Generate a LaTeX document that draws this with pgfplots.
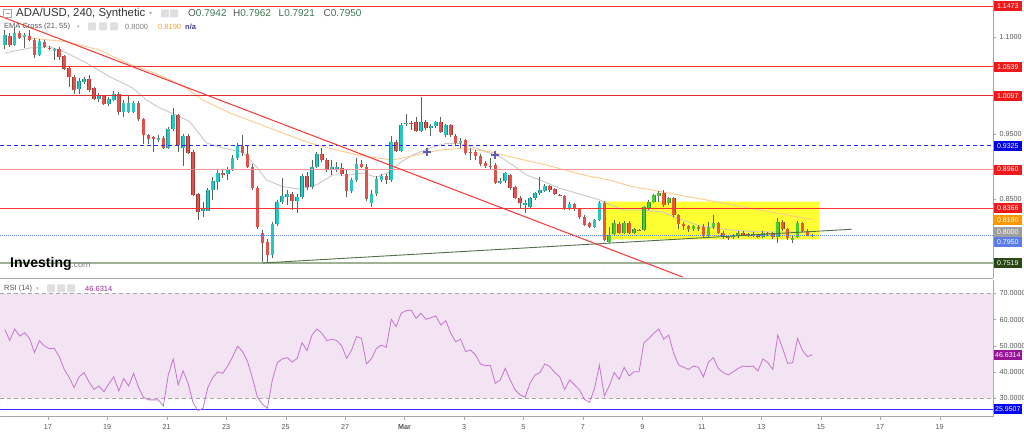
\documentclass[border=0pt]{standalone}
\usepackage{fontspec}
\setmainfont{Liberation Sans}
\newfontfamily\dejavu{DejaVu Sans}
\usepackage{pgfplots}
\usepackage{pgfplotstable}
\pgfplotsset{compat=1.18}

\definecolor{upc}{RGB}{38,200,196}
\definecolor{dnc}{RGB}{226,82,75}
\definecolor{upg}{RGB}{72,205,52}
\definecolor{dno}{RGB}{232,92,48}
\definecolor{wickc}{RGB}{85,100,85}
\definecolor{lred}{RGB}{240,24,24}
\definecolor{hred}{RGB}{250,50,50}
\definecolor{hpink}{RGB}{255,150,150}
\definecolor{hblue}{RGB}{40,40,255}
\definecolor{hlblue}{RGB}{100,130,255}
\definecolor{holive}{RGB}{160,178,150}
\definecolor{tgreen}{RGB}{80,112,70}
\definecolor{emag}{RGB}{200,200,200}
\definecolor{emao}{RGB}{255,200,140}
\definecolor{yel}{RGB}{255,255,50}
\definecolor{rsil}{RGB}{198,116,206}
\definecolor{rsiband}{RGB}{242,228,243}
\definecolor{txtg}{RGB}{85,85,85}
\definecolor{numgreen}{RGB}{60,120,80}
\definecolor{crossc}{RGB}{95,95,185}

\pgfplotstableread{
k o h l c
0 1.0877 1.1108 1.0815 1.1031
2 1.0877 1.1138 1.0861 1.1066
4 1.0995 1.1061 1.0831 1.1031
7 1.0723 1.0969 1.0707 1.0943
10 1.0789 1.0831 1.0646 1.0815
15 1.0200 1.0369 1.0123 1.0323
16 1.0303 1.0384 1.0277 1.0349
19 1.0046 1.0138 1.0000 1.0092
21 0.9969 1.0077 0.9938 1.0046
22 1.0031 1.0174 1.0015 1.0123
24 0.9851 1.0031 0.9774 0.9989
25 0.9851 1.0092 0.9830 0.9984
26 0.9851 1.0015 0.9830 0.9989
31 0.9415 0.9492 0.9384 0.9446
33 0.9297 0.9615 0.9277 0.9584
34 0.9584 0.9907 0.9554 0.9800
36 0.9287 0.9507 0.9020 0.9481
40 0.8327 0.8461 0.8231 0.8354
41 0.8327 0.8677 0.8323 0.8646
42 0.8646 0.8846 0.8492 0.8784
43 0.8774 0.8954 0.8646 0.8912
45 0.8892 0.9000 0.8800 0.8969
46 0.8969 0.9184 0.8938 0.9134
47 0.9134 0.9369 0.9107 0.9323
54 0.7646 0.8154 0.7600 0.8123
55 0.8123 0.8492 0.8092 0.8466
56 0.8466 0.8831 0.8431 0.8554
57 0.8543 0.8646 0.8415 0.8584
59 0.8481 0.8584 0.8292 0.8543
60 0.8533 0.8892 0.8507 0.8861
62 0.8687 0.9107 0.8661 0.9004
63 0.9004 0.9231 0.8984 0.9200
66 0.8954 0.9107 0.8877 0.9004
67 0.8954 0.9077 0.8923 0.9000
70 0.8635 0.8831 0.8600 0.8800
71 0.8800 0.9138 0.8769 0.9041
74 0.8450 0.8646 0.8389 0.8584
75 0.8584 0.8861 0.8554 0.8810
76 0.8800 0.8892 0.8769 0.8861
78 0.8800 0.9477 0.8769 0.9389
80 0.9250 0.9677 0.9231 0.9646
81 0.9657 0.9815 0.9631 0.9681
84 0.9558 1.0081 0.9538 0.9687
86 0.9595 0.9661 0.9477 0.9635
87 0.9635 0.9707 0.9600 0.9687
89 0.9492 0.9661 0.9461 0.9646
92 0.9364 0.9446 0.9292 0.9404
100 0.8758 0.8831 0.8738 0.8789
101 0.8789 0.8923 0.8754 0.8903
105 0.8415 0.8492 0.8292 0.8450
106 0.8380 0.8538 0.8354 0.8518
107 0.8518 0.8615 0.8492 0.8595
108 0.8595 0.8851 0.8569 0.8646
109 0.8631 0.8738 0.8615 0.8707
114 0.8364 0.8461 0.8338 0.8431
119 0.8081 0.8200 0.8061 0.8184
120 0.8184 0.8477 0.8169 0.8441
}\upA

\pgfplotstableread{
k o h l c
1 1.1015 1.1061 1.0846 1.0877
3 1.1066 1.1092 1.0964 1.0980
5 1.1020 1.1108 1.0943 1.0954
6 1.0954 1.0984 1.0677 1.0723
8 1.0927 1.0954 1.0831 1.0850
9 1.0835 1.0861 1.0800 1.0810
11 1.0815 1.0846 1.0646 1.0697
12 1.0707 1.0723 1.0492 1.0503
13 1.0518 1.0538 1.0235 1.0380
14 1.0389 1.0415 1.0123 1.0184
17 1.0354 1.0415 1.0158 1.0184
18 1.0211 1.0231 1.0031 1.0046
20 1.0092 1.0107 0.9954 0.9969
23 1.0123 1.0154 0.9800 0.9851
27 0.9984 1.0015 0.9707 0.9734
28 0.9738 0.9754 0.9354 0.9492
29 0.9492 0.9507 0.9354 0.9430
30 0.9461 0.9477 0.9235 0.9430
32 0.9446 0.9477 0.9277 0.9297
35 0.9800 0.9815 0.9235 0.9338
37 0.9481 0.9507 0.9200 0.9220
38 0.9235 0.9261 0.8554 0.8569
39 0.8584 0.8600 0.8184 0.8312
44 0.8912 0.8954 0.8831 0.8877
48 0.9323 0.9492 0.9169 0.9210
49 0.9200 0.9338 0.8984 0.9004
50 0.9004 0.9046 0.8646 0.8672
51 0.8672 0.8707 0.8046 0.8072
52 0.7984 0.8031 0.7519 0.7826
53 0.7850 0.7892 0.7519 0.7646
58 0.8584 0.8615 0.8338 0.8481
61 0.8861 0.8923 0.8646 0.8687
64 0.9200 0.9292 0.9077 0.9107
65 0.9107 0.9138 0.8923 0.8964
68 0.8980 0.9061 0.8861 0.8892
69 0.8892 0.8954 0.8538 0.8635
72 0.9041 0.9107 0.8984 0.9004
73 0.9004 0.9046 0.8477 0.8503
77 0.8861 0.8892 0.8738 0.8800
79 0.9389 0.9415 0.9231 0.9250
82 0.9681 0.9707 0.9569 0.9669
83 0.9687 0.9769 0.9538 0.9558
85 0.9697 0.9723 0.9569 0.9595
88 0.9687 0.9774 0.9523 0.9543
90 0.9646 0.9661 0.9461 0.9492
91 0.9481 0.9507 0.9338 0.9364
93 0.9415 0.9430 0.9184 0.9210
94 0.9235 0.9292 0.9107 0.9226
95 0.9235 0.9261 0.9107 0.9174
96 0.9174 0.9200 0.9015 0.9046
97 0.9066 0.9092 0.8984 0.9015
98 0.9015 0.9138 0.8954 0.9006
99 0.9031 0.9061 0.8738 0.8758
102 0.8877 0.8892 0.8646 0.8672
103 0.8687 0.8707 0.8507 0.8527
104 0.8527 0.8554 0.8369 0.8441
110 0.8707 0.8723 0.8615 0.8646
111 0.8657 0.8677 0.8569 0.8584
112 0.8569 0.8584 0.8554 0.8560
113 0.8554 0.8569 0.8338 0.8364
115 0.8431 0.8446 0.8323 0.8349
116 0.8349 0.8369 0.8200 0.8226
117 0.8235 0.8261 0.8092 0.8108
118 0.8133 0.8154 0.8061 0.8081
}\dnA

\pgfplotstableread{
k o h l c
122 0.7850 0.8081 0.7831 0.7954
123 0.7969 0.8184 0.7954 0.8134
125 0.7989 0.8169 0.7969 0.8143
127 0.7989 0.8061 0.7969 0.8041
129 0.8031 0.8400 0.8015 0.8380
130 0.8349 0.8492 0.8338 0.8466
131 0.8466 0.8584 0.8446 0.8569
132 0.8554 0.8631 0.8461 0.8595
134 0.8441 0.8538 0.8415 0.8518
139 0.8041 0.8107 0.8015 0.8092
142 0.7938 0.8154 0.7907 0.8081
143 0.8081 0.8261 0.8046 0.8143
147 0.7918 0.7969 0.7892 0.7938
148 0.7938 0.8015 0.7907 0.7989
151 0.7938 0.8000 0.7923 0.7969
153 0.7927 0.8015 0.7907 0.7989
156 0.7927 0.8215 0.7831 0.8158
159 0.7877 0.7938 0.7831 0.7912
160 0.7918 0.8169 0.7907 0.8134
163 0.7942 0.7962 0.7921 0.7950
}\upB

\pgfplotstableread{
k o h l c
121 0.8441 0.8477 0.7861 0.7877
124 0.8123 0.8154 0.7969 0.7989
126 0.8143 0.8169 0.7969 0.7989
128 0.8031 0.8046 0.8015 0.8021
133 0.8595 0.8646 0.8384 0.8415
135 0.8518 0.8538 0.8231 0.8261
136 0.8261 0.8277 0.8046 0.8123
137 0.8123 0.8154 0.8031 0.8092
138 0.8092 0.8107 0.8000 0.8041
140 0.8081 0.8107 0.8015 0.8041
141 0.8081 0.8123 0.7907 0.7938
144 0.8133 0.8154 0.7969 0.7989
145 0.7989 0.8015 0.7892 0.7927
146 0.7927 0.7954 0.7877 0.7903
149 0.7989 0.8015 0.7938 0.7954
150 0.7969 0.7984 0.7923 0.7938
152 0.7954 0.7969 0.7907 0.7927
154 0.7989 0.8000 0.7938 0.7964
155 0.7980 0.8000 0.7892 0.7918
157 0.8158 0.8184 0.8015 0.8041
158 0.8041 0.8061 0.7877 0.7903
161 0.8134 0.8154 0.8000 0.8020
162 0.8020 0.8046 0.7938 0.7954
}\dnB

\pgfplotstableread{
k v
0 1.0754
5.05 1.0831
9.08 1.0851
12.45 1.0754
16.49 1.0600
21.19 1.0389
25.83 1.0215
28.6 1.0031
31.28 0.9907
34.65 0.9800
37.34 0.9697
40.71 0.9369
44.0 0.9292
48.03 0.9231
50.8 0.9004
52.82 0.8800
56.1 0.8697
59.54 0.8661
62.9 0.8723
66.2 0.8877
69.6 0.8877
72.25 0.8907
75.0 0.8841
77.7 0.8927
79.7 0.9061
82.3 0.9184
85.8 0.9292
89.1 0.9364
91.8 0.9364
95.2 0.9287
99.9 0.9158
102.5 0.9031
105.3 0.8877
108.0 0.8800
112.0 0.8672
116.0 0.8584
120.1 0.8492
124.7 0.8338
128.8 0.8338
132.8 0.8307
135.6 0.8215
140.3 0.8092
146.3 0.8031
151.7 0.8004
157.0 0.8000
163 0.8000
}\emaA

\pgfplotstableread{
k v
5.05 1.0984
12.45 1.0927
19.17 1.0800
24.56 1.0600
31.28 1.0415
36.67 1.0215
39.96 1.0031
45.41 0.9830
50.8 0.9677
56.1 0.9523
61.55 0.9369
66.94 0.9261
72.25 0.9169
78.3 0.9107
83.1 0.9184
87.8 0.9261
92.4 0.9287
97.9 0.9235
103.3 0.9134
109.3 0.9031
116.7 0.8877
122.1 0.8800
126.1 0.8707
132.8 0.8615
144.9 0.8446
155.7 0.8292
163 0.8190
}\emaB

\pgfplotstableread{
k v
0 56.3
1 52.0
2 56.4
3 53.7
4 55.0
5 52.8
6 47.4
7 52.0
8 49.9
9 48.9
10 49.0
11 45.9
12 41.0
13 38.0
14 34.1
15 38.2
16 39.8
17 36.3
18 33.4
19 34.7
20 32.5
21 35.5
22 38.2
23 32.8
24 37.5
25 34.7
26 39.5
27 34.2
28 30.4
29 29.4
30 29.4
31 29.4
32 27.1
33 38.9
34 45.0
35 35.1
36 40.4
37 35.7
38 28.3
39 25.3
40 26.2
41 34.2
42 37.9
43 40.1
44 39.5
45 42.3
46 45.9
47 49.9
48 47.8
49 44.0
50 37.6
51 30.4
52 27.8
53 26.2
54 37.0
55 43.6
56 45.0
57 45.5
58 43.8
59 45.2
60 51.2
61 48.2
62 54.1
63 56.4
64 54.8
65 52.0
66 52.5
67 52.0
68 50.0
69 45.2
70 48.4
71 53.5
72 52.8
73 43.1
74 45.1
75 49.0
76 50.3
77 49.4
78 60.1
79 57.3
80 62.4
81 63.4
82 63.6
83 60.5
84 62.4
85 60.1
86 60.7
87 61.4
88 57.9
89 59.6
90 54.8
91 51.6
92 52.5
93 47.8
94 48.4
95 46.5
96 43.1
97 42.4
98 42.6
99 35.7
100 37.0
101 41.4
102 37.0
103 33.2
104 31.3
105 30.4
106 35.7
107 38.9
108 39.8
109 43.1
110 42.1
111 39.8
112 38.2
113 33.4
114 37.0
115 35.1
116 33.2
117 29.6
118 28.5
119 33.5
120 42.7
121 30.9
122 34.7
123 39.8
124 37.2
125 41.8
126 38.5
127 40.1
128 40.1
129 51.2
130 52.8
131 54.8
132 56.4
133 52.5
134 54.1
135 47.1
136 42.7
137 41.8
138 41.0
139 42.3
140 41.8
141 38.2
142 43.7
143 45.5
144 41.4
145 39.8
146 38.9
147 40.1
148 41.4
149 42.3
150 42.1
151 42.3
152 40.4
153 45.0
154 43.6
155 41.0
156 54.1
157 49.0
158 43.3
159 43.6
160 52.8
161 48.2
162 45.9
163 46.6
}\rsi

\tikzset{
  lbl/.style={anchor=west, inner sep=0pt, minimum width=28pt, minimum height=10pt,
     text=white, font=\fontsize{7}{8}\selectfont, xshift=0.6pt},
}
\pgfplotsset{
  wickplot/.style={draw=none, mark=none, error bars/.cd, y dir=plus, y explicit,
     error mark=none, error bar style={line width=0.9pt, draw=wickc, line cap=butt}},
  bodyplot/.style 2 args={draw=none, mark=none, error bars/.cd, y dir=plus, y explicit,
     error mark=none, error bar style={line width=#2, draw=#1, line cap=butt}},
  panel/.style={scale only axis, width=993pt, xmin=-0.96, xmax=199.44,
     axis x line*=bottom, axis y line*=right, axis line style={-, draw=gray!70},
     tick align=outside, major tick length=3pt, tick style={gray!70},
     clip mode=individual,
     /pgf/number format/assume math mode=true,
     tick label style={font=\fontsize{7.2}{8}\selectfont, text=txtg},
     y tick label style={/pgf/number format/.cd, fixed, fixed zerofill, precision=4}},
}

\begin{document}
\begin{tikzpicture}[x=1pt,y=1pt]
\useasboundingbox (0,0) rectangle (1024,433);

% ---------------- main price panel ----------------
\begin{axis}[panel, at={(0pt,433pt)}, anchor=north west, height=278pt,
  ymin=0.7292, ymax=1.1569, xtick=\empty, ytick={0.85,0.95,1.1}]
  \addplot[draw=none, fill=yel] coordinates {(120.75,0.7888) (164.3,0.7888) (164.3,0.8466) (120.75,0.8466)} \closedcycle;
  \addplot[emag, line width=0.9pt] table[x=k,y=v] {\emaA};
  \addplot[emao, line width=0.9pt] table[x=k,y=v] {\emaB};
  \addplot[wickplot] table[x=k, y=l, y error plus expr=\thisrow{h}-\thisrow{l}] {\upA};
  \addplot[wickplot] table[x=k, y=l, y error plus expr=\thisrow{h}-\thisrow{l}] {\dnA};
  \addplot[wickplot] table[x=k, y=l, y error plus expr=\thisrow{h}-\thisrow{l}] {\upB};
  \addplot[wickplot] table[x=k, y=l, y error plus expr=\thisrow{h}-\thisrow{l}] {\dnB};
  \addplot[bodyplot={upc!70!black}{3.6pt}] table[x=k, y=o, y error plus expr=\thisrow{c}-\thisrow{o}] {\upA};
  \addplot[bodyplot={upc}{2.8pt}] table[x=k, y=o, y error plus expr=\thisrow{c}-\thisrow{o}] {\upA};
  \addplot[bodyplot={dnc!70!black}{3.6pt}] table[x=k, y=c, y error plus expr=\thisrow{o}-\thisrow{c}] {\dnA};
  \addplot[bodyplot={dnc}{2.8pt}] table[x=k, y=c, y error plus expr=\thisrow{o}-\thisrow{c}] {\dnA};
  \addplot[bodyplot={upg!70!black}{3.6pt}] table[x=k, y=o, y error plus expr=\thisrow{c}-\thisrow{o}] {\upB};
  \addplot[bodyplot={upg}{2.8pt}] table[x=k, y=o, y error plus expr=\thisrow{c}-\thisrow{o}] {\upB};
  \addplot[bodyplot={dno!70!black}{3.6pt}] table[x=k, y=c, y error plus expr=\thisrow{o}-\thisrow{c}] {\dnB};
  \addplot[bodyplot={dno}{2.8pt}] table[x=k, y=c, y error plus expr=\thisrow{o}-\thisrow{c}] {\dnB};
  \addplot[hred, line width=0.9pt] coordinates {(-0.96,1.1473) (199.44,1.1473)};
  \addplot[hred, line width=0.9pt] coordinates {(-0.96,1.0539) (199.44,1.0539)};
  \addplot[hred!90!black, line width=0.9pt] coordinates {(-0.96,1.0097) (199.44,1.0097)};
  \addplot[hblue, line width=0.9pt, dash pattern=on 4pt off 3pt] coordinates {(-0.96,0.9325) (199.44,0.9325)};
  \addplot[hpink, line width=1.8pt] coordinates {(-0.96,0.8960) (199.44,0.8960)};
  \addplot[hred, line width=0.9pt] coordinates {(-0.96,0.8366) (199.44,0.8366)};
  \addplot[hlblue, line width=0.7pt, dash pattern=on 1pt off 1pt] coordinates {(-0.96,0.7950) (199.44,0.7950)};
  \addplot[holive, line width=1.8pt] coordinates {(-0.96,0.7519) (199.44,0.7519)};
  \addplot[hred, line width=1pt] coordinates {(-1.0,1.1323) (136.8,0.7307)};
  \addplot[tgreen, line width=0.9pt] coordinates {(52.07,0.7523) (170.9,0.8042)};
  \addplot[only marks, mark=+, mark size=4.2pt, line width=1.8pt, crossc] coordinates {(85.2,0.9231) (98.9,0.9185)};
  \node[lbl, fill=lred] at (axis cs:199.44,1.1473) {1.1473};
  \node[lbl, fill=lred] at (axis cs:199.44,1.0539) {1.0539};
  \node[lbl, fill=lred] at (axis cs:199.44,1.0097) {1.0097};
  \node[lbl, fill=blue!90!black] at (axis cs:199.44,0.9325) {0.9325};
  \node[lbl, fill=lred] at (axis cs:199.44,0.8960) {0.8960};
  \node[lbl, fill=lred] at (axis cs:199.44,0.8366) {0.8366};
  \node[lbl, fill={rgb,255:red,255;green,152;blue,0}] at (axis cs:199.44,0.8190) {0.8190};
  \node[lbl, fill=gray!75] at (axis cs:199.44,0.8000) {0.8000};
  \node[lbl, fill={rgb,255:red,90;green,125;blue,235}] at (axis cs:199.44,0.7841) {0.7950};
  \node[lbl, fill={rgb,255:red,40;green,72;blue,24}] at (axis cs:199.44,0.7519) {0.7519};
\end{axis}

% ---------------- RSI panel ----------------
\begin{axis}[panel, at={(0pt,153pt)}, anchor=north west, height=136.7pt,
  ymin=22.99, ymax=75.07, ytick={30,40,50,60,70},
  xtick={8.68,20.68,32.68,44.68,56.68,68.68,80.68,92.68,104.68,116.68,128.68,140.68,152.68,164.68,176.68,188.68},
  xticklabels={17,19,21,23,25,27,\textbf{Mar},3,5,7,9,11,13,15,17,19},
  x tick label style={yshift=-1pt}]
  \addplot[draw=none, fill=rsiband] coordinates {(-0.96,30) (199.44,30) (199.44,70) (-0.96,70)} \closedcycle;
  \addplot[gray!70, line width=0.7pt, dash pattern=on 4pt off 3pt] coordinates {(-0.96,70) (199.44,70)};
  \addplot[gray!70, line width=0.7pt, dash pattern=on 4pt off 3pt] coordinates {(-0.96,30) (199.44,30)};
  \addplot[blue!80!white, line width=0.8pt] coordinates {(-0.96,25.95) (199.44,25.95)};
  \addplot[rsil, line width=0.8pt] table[x=k,y=v] {\rsi};
  \node[lbl, fill={rgb,255:red,150;green,20;blue,150}] at (axis cs:199.44,46.6314) {46.6314};
  \node[lbl, fill=blue] at (axis cs:199.44,25.9507) {25.9507};
\end{axis}

% ---------------- header texts ----------------
\draw[gray!70, line width=0.6pt] (3.5,415.5) rectangle (11.5,423.5);
\draw[gray!70, line width=0.6pt] (5.5,419.5) -- (9.5,419.5);
\node[anchor=west, inner sep=0pt, font=\fontsize{11.4}{12}\selectfont, text={rgb,255:red,50;green,50;blue,50}] at (16,419.5) {ADA/USD, 240, Synthetic};
\node[anchor=west, inner sep=0pt, font=\dejavu\fontsize{6}{7}\selectfont, text=gray!70] at (149,419.5) {▾};
\fill[gray!25, rounded corners=1pt] (161,415.5) rectangle (169,423.5);
\fill[gray!25, rounded corners=1pt] (170,415.5) rectangle (178,423.5);
\node[anchor=west, inner sep=0pt, font=\fontsize{10}{11}\selectfont] at (188,419.5) {\textcolor{txtg}{O}\textcolor{numgreen}{0.7942}};
\node[anchor=west, inner sep=0pt, font=\fontsize{10}{11}\selectfont] at (233,419.5) {\textcolor{txtg}{H}\textcolor{numgreen}{0.7962}};
\node[anchor=west, inner sep=0pt, font=\fontsize{10}{11}\selectfont] at (278.5,419.5) {\textcolor{txtg}{L}\textcolor{numgreen}{0.7921}};
\node[anchor=west, inner sep=0pt, font=\fontsize{10}{11}\selectfont] at (323.5,419.5) {\textcolor{txtg}{C}\textcolor{numgreen}{0.7950}};

\node[anchor=west, inner sep=0pt, font=\fontsize{7.5}{8}\selectfont, text=txtg] at (4,406) {EMA Cross (21, 55)};
\node[anchor=west, inner sep=0pt, font=\dejavu\fontsize{5}{6}\selectfont, text=gray!70] at (77,406) {▾};
\fill[gray!25, rounded corners=1pt] (88,402.5) rectangle (96,410.5);
\fill[gray!25, rounded corners=1pt] (99,402.5) rectangle (107,410.5);
\fill[gray!25, rounded corners=1pt] (110,402.5) rectangle (118,410.5);
\node[anchor=west, inner sep=0pt, font=\fontsize{7.5}{8}\selectfont, text=gray] at (125,406) {0.8000};
\node[anchor=west, inner sep=0pt, font=\fontsize{7.5}{8}\selectfont, text={rgb,255:red,255;green,160;blue,40}] at (158,406) {0.8190};
\node[anchor=west, inner sep=0pt, font=\bfseries\fontsize{7.5}{8}\selectfont, text={rgb,255:red,60;green,60;blue,150}] at (185,406) {n/a};

\node[anchor=base west, inner sep=0pt, font=\bfseries\fontsize{14}{15}\selectfont, text=black] at (10,165.5) {Investing};
\node[anchor=base west, inner sep=0pt, font=\fontsize{9}{10}\selectfont, text=gray] at (71,165.5) {.com};

\node[anchor=west, inner sep=0pt, font=\fontsize{7.5}{8}\selectfont, text=txtg] at (4,144) {RSI (14)};
\node[anchor=west, inner sep=0pt, font=\dejavu\fontsize{5}{6}\selectfont, text=gray!70] at (36,144) {▾};
\fill[gray!25, rounded corners=1pt] (47,140.5) rectangle (55,148.5);
\fill[gray!25, rounded corners=1pt] (57,140.5) rectangle (65,148.5);
\fill[gray!25, rounded corners=1pt] (67,140.5) rectangle (75,148.5);
\node[anchor=west, inner sep=0pt, font=\fontsize{7.5}{8}\selectfont, text={rgb,255:red,150;green,40;blue,150}] at (85,144) {46.6314};
\end{tikzpicture}
\end{document}
